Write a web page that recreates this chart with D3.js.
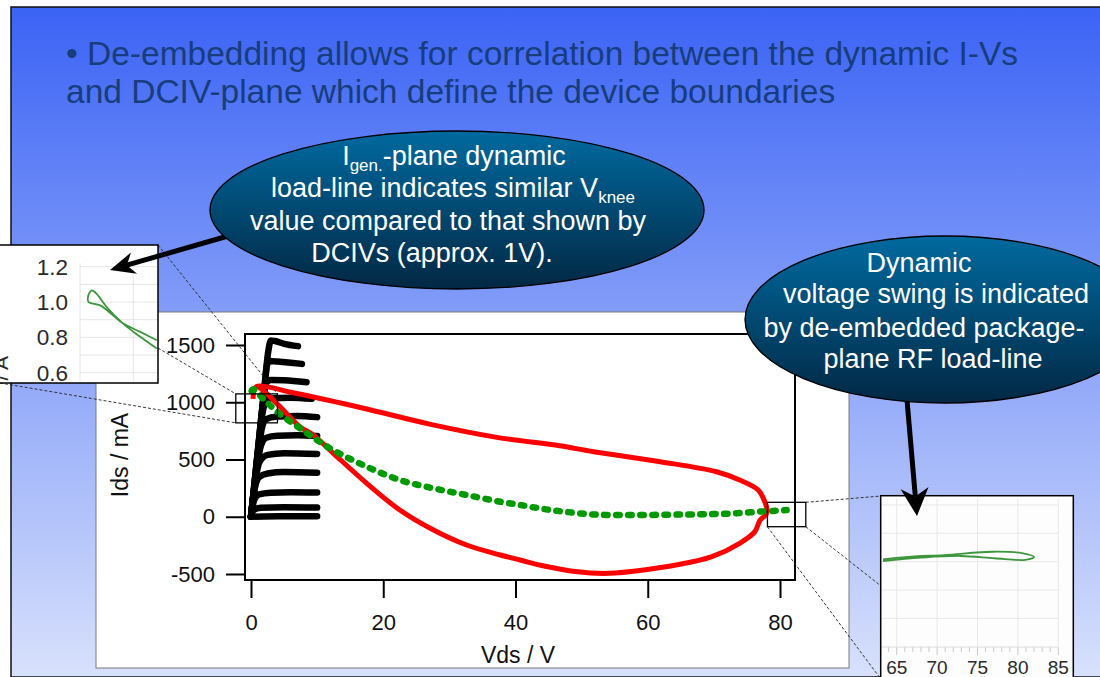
<!DOCTYPE html>
<html>
<head>
<meta charset="utf-8">
<script src="https://cdn.jsdelivr.net/npm/d3@7"></script>
<style>
  body { margin: 0; background: #fff; }
  svg { display: block; font-family: "Liberation Sans", Arial, sans-serif; }
</style>
</head>
<body>
<svg id="chart" width="1100" height="677"></svg>
<script>
// ---- data ----
const titleLines = [
  "\u2022 De-embedding allows for correlation between the dynamic I-Vs",
  "and DCIV-plane which define the device boundaries"
];

const xTicks = [0, 20, 40, 60, 80];
const yTicks = [-500, 0, 500, 1000, 1500];

// DC I-V family, [Vds (V), Ids (mA)]
const dcivCurves = [
  [[0,0],[1,560],[2,1110],[2.6,1440],[3,1540],[3.6,1535],[5,1510],[7.1,1490]],
  [[0,0],[1,550],[2,1090],[2.4,1320],[2.8,1360],[4,1355],[6,1345],[7.7,1335]],
  [[0,0],[1,540],[1.9,1040],[2.3,1170],[3,1195],[5,1192],[8.4,1175]],
  [[0,0],[1,520],[1.7,890],[2.2,1005],[3,1035],[6,1040],[9.2,1030]],
  [[0,0],[1,480],[1.6,760],[2.2,850],[4,875],[7,880],[10,870]],
  [[0,0],[0.8,380],[1.4,600],[2.3,690],[4,707],[7,712],[10,705]],
  [[0,0],[0.7,330],[1.3,480],[2.5,540],[5,555],[10,548]],
  [[0,0],[0.6,255],[1.2,345],[2.5,378],[5,390],[10,385]],
  [[0,0],[0.5,150],[1.2,195],[3,210],[6,215],[10,212]],
  [[0,0],[0.4,60],[1.5,78],[5,83],[10,80]],
  [[0,0],[2,3],[10,5]]
];

// package-plane RF load-line (red loop)
const rfLoadLine = [
  [0.3,1030],[0.5,1110],[0.9,1140],[6.9,1076],[17,948],[27,809],[37.2,693],
  [46.7,620],[51.8,568],[61.9,481],[70.4,393],[73.9,321],[76.7,234],[77.7,131],
  [78,74],[77.9,20],[77,-28],[76.2,-130],[73.9,-232],[69.7,-349],[64.9,-415],
  [54,-494],[49,-478],[44.5,-432],[40.7,-378],[37.7,-334],[32.6,-247],
  [27.6,-116],[22.5,59],[17.5,292],[12.45,554],[9.4,714],[7.4,786],[4.4,960],
  [1.9,1100],[0.9,1140]
];

// I-gen plane dynamic load-line (green)
const igenLoadLine = [
  [0.1,1100],[0.35,1114],[1.9,1027],[4.4,896],[6.9,794],[9.4,692],[12.4,583],
  [17.5,437],[22.5,321],[27.6,248],[32.6,190],[37.7,131],[40.7,103],[44,70],
  [47.3,45],[51.7,20],[56.8,15],[61.9,17],[66,20],[69.4,23],[72.9,29],[77,45],[81,58]
];

// zoom windows on the main plot, [V range], [mA range]
const kneeWindow = { v: [-2.3, 4.0], i: [820, 1073] };
const swingWindow = { v: [78.1, 83.9], i: [-87, 126] };

// left inset (knee region), [V, A]
const kneeTicks = [0.6, 0.8, 1.0, 1.2];
const kneeGrid = [0.6, 0.7, 0.8, 0.9, 1.0, 1.1, 1.2];
const kneeLine = [
  [1.44,0.784],[1.13,0.831],[0.81,0.878],[0.62,0.925],[0.38,0.981],[0.16,1.0],
  [0.15,1.03],[0.22,1.066],[0.3,1.05],[0.5,0.972],[0.81,0.878],[1.13,0.803],[1.44,0.737]
];

// right inset (voltage swing end), [V, mA]
const swingTicks = [65, 70, 75, 80, 85];
const swingGrid = [-200, -100, 0, 100, 200];
const swingLine = [
  [63.3,8],[66.75,18],[70.9,23],[76.8,35],[80.5,30],[82,16],[80.9,6],
  [77.1,12],[72.9,20],[68,14],[63.3,2]
];

const calloutKnee = [
  [{t:"I"},{t:"gen.", sub:true},{t:"-plane dynamic"}],
  [{t:"load-line indicates similar V"},{t:"knee", sub:true}],
  [{t:"value compared to that shown by"}],
  [{t:"DCIVs (approx. 1V)."}]
];
const calloutSwing = [
  [{t:"Dynamic"}],
  [{t:"voltage swing is indicated"}],
  [{t:"by de-embedded package-"}],
  [{t:"plane RF load-line"}]
];

// ---- drawing ----
const W = 1100, H = 677;
const svg = d3.select("#chart");
const defs = svg.append("defs");

const bg = defs.append("linearGradient").attr("id","bg")
  .attr("x1",0).attr("y1",0).attr("x2",0).attr("y2",1);
bg.append("stop").attr("offset","0%").attr("stop-color","#3b63f5");
bg.append("stop").attr("offset","100%").attr("stop-color","#d8e1fc");

const bubble = defs.append("linearGradient").attr("id","bubble")
  .attr("x1",0).attr("y1",0).attr("x2",0).attr("y2",1);
bubble.append("stop").attr("offset","0%").attr("stop-color","#006a9f");
bubble.append("stop").attr("offset","100%").attr("stop-color","#022844");

svg.append("rect").attr("width",W).attr("height",H).attr("fill","#fff");
svg.append("rect")
  .attr("x",11).attr("y",7).attr("width",W).attr("height",H - 7)
  .attr("fill","url(#bg)")
  .attr("stroke","#111").attr("stroke-width",1.5);

// title
svg.append("g").selectAll("text")
  .data(titleLines)
  .join("text")
  .attr("x",66)
  .attr("y",(d,i) => 65 + i * 38.3)
  .attr("font-size",33.5)
  .attr("fill","#173d7c")
  .text(d => d);

// main chart panel
svg.append("rect")
  .attr("x",96).attr("y",312).attr("width",753).attr("height",356)
  .attr("fill","#fff").attr("stroke","#7a7a7a").attr("stroke-width",1);

const frame = { left: 245, right: 795, top: 334, bottom: 580 };
const x = d3.scaleLinear().domain([0,80]).range([251,780]);
const y = d3.scaleLinear().domain([-500,1500]).range([574,345]);

const plot = svg.append("g");
const plain = d => String(d).replace("\u2212","-");

const xAxis = plot.append("g")
  .attr("transform",`translate(0,${frame.bottom})`)
  .call(d3.axisBottom(x).tickValues(xTicks).tickFormat(plain).tickSize(18).tickPadding(16));
const yAxis = plot.append("g")
  .attr("transform",`translate(${frame.left},0)`)
  .call(d3.axisLeft(y).tickValues(yTicks).tickFormat(plain).tickSize(19).tickPadding(11));

[xAxis, yAxis].forEach(ax => {
  ax.select(".domain").remove();
  ax.selectAll("line").attr("stroke","#000").attr("stroke-width",2);
  ax.selectAll("text")
    .attr("fill","#111")
    .attr("font-size",22)
    .attr("font-family","Liberation Sans, Arial, sans-serif");
});

plot.append("rect")
  .attr("x",frame.left).attr("y",frame.top)
  .attr("width",frame.right - frame.left).attr("height",frame.bottom - frame.top)
  .attr("fill","none").attr("stroke","#000").attr("stroke-width",2);

plot.append("text")
  .attr("x",(frame.left + frame.right) / 2 - 2)
  .attr("y",663)
  .attr("text-anchor","middle")
  .attr("font-size",23).attr("fill","#111")
  .text("Vds / V");

plot.append("text")
  .attr("transform","translate(128,455) rotate(-90)")
  .attr("text-anchor","middle")
  .attr("font-size",23).attr("fill","#111")
  .text("Ids / mA");

const dcLine = d3.line().x(d => x(d[0])).y(d => y(d[1])).curve(d3.curveMonotoneX);
plot.append("g").selectAll("path")
  .data(dcivCurves)
  .join("path")
  .attr("d",dcLine)
  .attr("fill","none")
  .attr("stroke","#000")
  .attr("stroke-width",6.5)
  .attr("stroke-linecap","round")
  .attr("stroke-linejoin","round");

plot.append("path")
  .datum(rfLoadLine)
  .attr("d",d3.line().x(d => x(d[0])).y(d => y(d[1])).curve(d3.curveCatmullRom.alpha(0.5)))
  .attr("fill","none")
  .attr("stroke","#ff0000")
  .attr("stroke-width",5)
  .attr("stroke-linejoin","round");

plot.append("path")
  .datum(igenLoadLine)
  .attr("d",d3.line().x(d => x(d[0])).y(d => y(d[1])).curve(d3.curveCatmullRom))
  .attr("fill","none")
  .attr("stroke","#009a00")
  .attr("stroke-width",6.5)
  .attr("stroke-linecap","round")
  .attr("stroke-dasharray","3.5 8.5");

// zoom windows + dashed leader lines
const zoomBox = w => ({
  x0: x(w.v[0]), x1: x(w.v[1]), y0: y(w.i[1]), y1: y(w.i[0])
});
const kb = zoomBox(kneeWindow), sb = zoomBox(swingWindow);

const leaders = [
  [158,245, kb.x1,kb.y0],
  [158,348, kb.x0,kb.y0],
  [0,383, kb.x0,kb.y1],
  [sb.x1,sb.y0, 881,496],
  [sb.x1,sb.y1, 881,586],
  [sb.x0,sb.y1, 886,686]
];
svg.append("g").selectAll("line")
  .data(leaders)
  .join("line")
  .attr("x1",d => d[0]).attr("y1",d => d[1])
  .attr("x2",d => d[2]).attr("y2",d => d[3])
  .attr("stroke","#222").attr("stroke-width",0.9)
  .attr("stroke-dasharray","3 2");

svg.append("g").selectAll("rect")
  .data([kb, sb])
  .join("rect")
  .attr("x",d => d.x0).attr("y",d => d.y0)
  .attr("width",d => d.x1 - d.x0).attr("height",d => d.y1 - d.y0)
  .attr("fill","none").attr("stroke","#000").attr("stroke-width",1.3);

// left inset
const insetA = { x: -2, y: 245, w: 160, h: 138 };
defs.append("clipPath").attr("id","clipA").append("rect")
  .attr("x",insetA.x).attr("y",insetA.y).attr("width",insetA.w).attr("height",insetA.h);
const kx = d3.scaleLinear().domain([0,1]).range([80,133.3]);
const ky = d3.scaleLinear().domain([0.6,1.2]).range([372.7,266.7]);

const gA = svg.append("g");
gA.append("rect")
  .attr("x",insetA.x).attr("y",insetA.y).attr("width",insetA.w).attr("height",insetA.h)
  .attr("fill","#fff");
const gAin = gA.append("g").attr("clip-path","url(#clipA)");
gAin.selectAll(".hg").data(kneeGrid).join("line").attr("class","hg")
  .attr("x1",80).attr("x2",160)
  .attr("y1",d => ky(d)).attr("y2",d => ky(d))
  .attr("stroke","#e6e6e6").attr("stroke-width",1);
gAin.selectAll(".vg").data([0,1]).join("line").attr("class","vg")
  .attr("x1",d => kx(d)).attr("x2",d => kx(d))
  .attr("y1",263).attr("y2",381)
  .attr("stroke","#e6e6e6").attr("stroke-width",1);
gAin.append("path")
  .datum(kneeLine)
  .attr("d",d3.line().x(d => kx(d[0])).y(d => ky(d[1])).curve(d3.curveCatmullRom))
  .attr("fill","none").attr("stroke","#3d963d").attr("stroke-width",1.8);
gAin.selectAll(".tl").data(kneeTicks).join("text").attr("class","tl")
  .attr("x",68).attr("y",d => ky(d))
  .attr("dy","0.36em")
  .attr("text-anchor","end")
  .attr("font-size",22.5).attr("fill","#2a2a2a")
  .text(d => d.toFixed(1));
gAin.append("text")
  .attr("transform","translate(8,356) rotate(-90)")
  .attr("text-anchor","end")
  .attr("font-size",21).attr("fill","#2a2a2a")
  .text("Ids / A");
gA.append("rect")
  .attr("x",insetA.x).attr("y",insetA.y).attr("width",insetA.w).attr("height",insetA.h)
  .attr("fill","none").attr("stroke","#000").attr("stroke-width",1.5);

// right inset
const insetB = { x: 880.7, y: 495.7, w: 192.6, h: 200 };
const sx = d3.scaleLinear().domain([65,85]).range([896.7,1058.3]);
const sy = d3.scaleLinear().domain([-100,100]).range([590,533.3]);

const gB = svg.append("g");
gB.append("rect")
  .attr("x",insetB.x).attr("y",insetB.y).attr("width",insetB.w).attr("height",insetB.h)
  .attr("fill","#fdfdfd");
gB.selectAll(".hg").data(swingGrid).join("line").attr("class","hg")
  .attr("x1",insetB.x).attr("x2",1058)
  .attr("y1",d => sy(d)).attr("y2",d => sy(d))
  .attr("stroke","#e8e8e8").attr("stroke-width",1);
gB.selectAll(".vg").data(swingTicks).join("line").attr("class","vg")
  .attr("x1",d => sx(d)).attr("x2",d => sx(d))
  .attr("y1",499).attr("y2",646)
  .attr("stroke","#e8e8e8").attr("stroke-width",1);
gB.selectAll(".mt").data(sx.ticks(20).concat([63,64])).join("line").attr("class","mt")
  .attr("x1",d => sx(d)).attr("x2",d => sx(d))
  .attr("y1",647).attr("y2",d => swingTicks.includes(d) ? 655 : 652)
  .attr("stroke","#c8c8c8").attr("stroke-width",1);
gB.append("line")
  .attr("x1",insetB.x).attr("x2",1058).attr("y1",647).attr("y2",647)
  .attr("stroke","#dcdcdc").attr("stroke-width",1);
gB.append("path")
  .datum(swingLine)
  .attr("d",d3.line().x(d => sx(d[0])).y(d => sy(d[1])).curve(d3.curveCatmullRom))
  .attr("fill","none").attr("stroke","#3d963d").attr("stroke-width",1.8);
gB.selectAll(".tl").data(swingTicks).join("text").attr("class","tl")
  .attr("x",d => sx(d)).attr("y",674)
  .attr("text-anchor","middle")
  .attr("font-size",19).attr("fill","#2a2a2a")
  .text(d => d);
gB.append("rect")
  .attr("x",insetB.x).attr("y",insetB.y).attr("width",insetB.w).attr("height",insetB.h)
  .attr("fill","none").attr("stroke","#000").attr("stroke-width",1.5);

// callout arrows
function arrow(x1, y1, x2, y2, len, half) {
  const a = Math.atan2(y2 - y1, x2 - x1);
  const notch = len * 0.7;
  svg.append("line")
    .attr("x1",x1).attr("y1",y1)
    .attr("x2",x2 - Math.cos(a) * notch).attr("y2",y2 - Math.sin(a) * notch)
    .attr("stroke","#000").attr("stroke-width",5);
  svg.append("path")
    .attr("d",`M0,0L${-len},${-half}L${-notch},0L${-len},${half}Z`)
    .attr("transform",`translate(${x2},${y2}) rotate(${a * 180 / Math.PI})`)
    .attr("fill","#000");
}
arrow(228, 236, 110, 270, 25, 11);
arrow(907, 400, 917, 516, 28, 14);

// callout bubbles
function callout(cx, cy, rx, ry, lines, xs, ys) {
  const g = svg.append("g");
  g.append("ellipse")
    .attr("cx",cx).attr("cy",cy).attr("rx",rx).attr("ry",ry)
    .attr("fill","url(#bubble)")
    .attr("stroke","#000").attr("stroke-width",1.3);
  lines.forEach((segs, i) => {
    const t = g.append("text")
      .attr("x",xs[i]).attr("y",ys[i])
      .attr("text-anchor","middle")
      .attr("font-size",27).attr("fill","#fff");
    let shifted = false;
    segs.forEach(s => {
      const sp = t.append("tspan").text(s.t);
      if (s.sub) { sp.attr("font-size",17).attr("dy",6); shifted = true; }
      else if (shifted) { sp.attr("dy",-6); shifted = false; }
    });
  });
}
callout(457, 210, 247, 79, calloutKnee, [454, 453, 448, 432], [165, 197, 230, 262]);
callout(945, 319.5, 200, 83.5, calloutSwing, [919, 936, 924, 933], [272, 303, 337, 368]);
</script>
</body>
</html>
